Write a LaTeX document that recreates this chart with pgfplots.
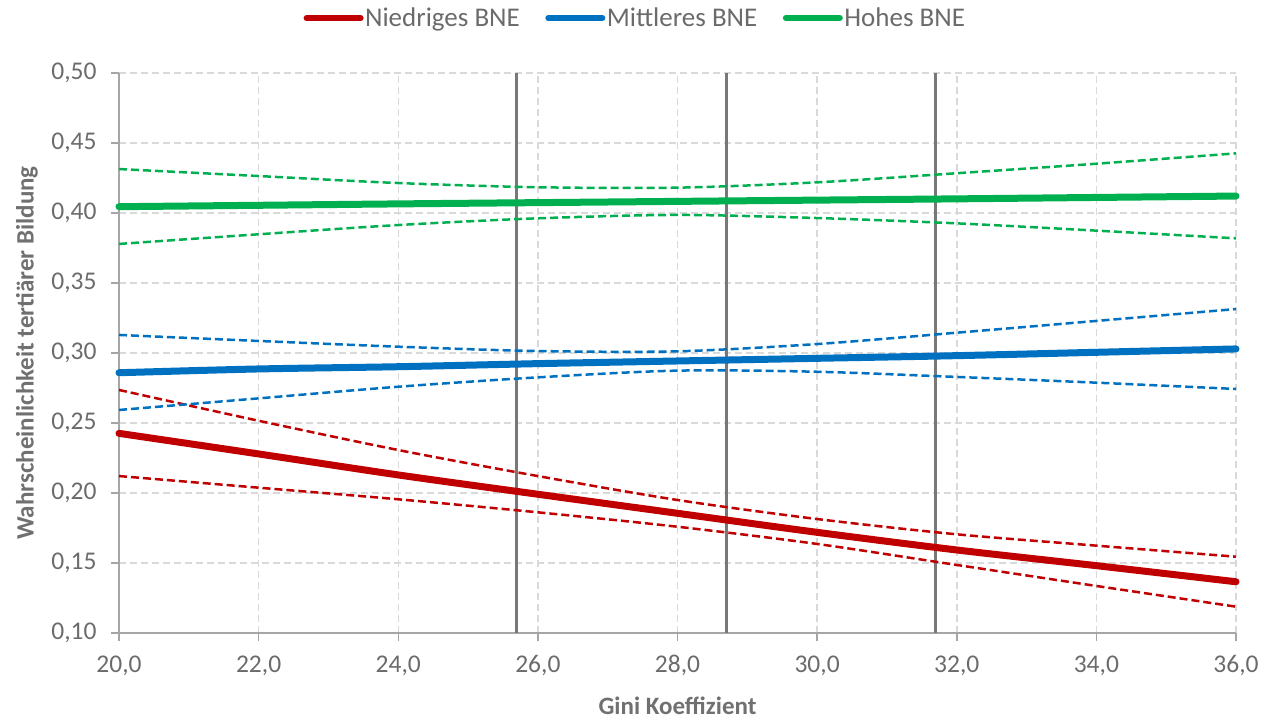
\documentclass[border=0pt]{standalone}
\usepackage{fontspec}
\setmainfont{Carlito}
\usepackage{pgfplots}
\pgfplotsset{compat=1.18}
\definecolor{cRed}{HTML}{C00000}
\definecolor{cBlue}{HTML}{0070C0}
\definecolor{cGreen}{HTML}{00B050}
\definecolor{axgray}{HTML}{A6A6A6}
\definecolor{gridgray}{HTML}{D9D9D9}
\definecolor{vgray}{HTML}{787878}
\definecolor{tickgray}{HTML}{6B6B6B}
\definecolor{labgray}{HTML}{707070}
\begin{document}
\begin{tikzpicture}
\useasboundingbox (-119pt,-86pt) rectangle (1144pt,633pt);
\begin{axis}[
  at={(0pt,0pt)}, anchor=south west,
  scale only axis, width=1117pt, height=560pt,
  xmin=20, xmax=36, ymin=0.1, ymax=0.5,
  clip=false,
  xtick={20,22,24,26,28,30,32,34,36},
  ytick={0.10,0.15,0.20,0.25,0.30,0.35,0.40,0.45,0.50},
  axis x line*=bottom, axis y line*=left,
  axis line style={draw=axgray, line width=1.5pt, -},
  tick align=outside, major tick length=8pt,
  tick style={draw=axgray, line width=1.5pt},
  grid=major,
  major grid style={draw=gridgray, line width=1.5pt, dash pattern=on 7pt off 4pt},
  /pgf/number format/assume math mode=true,
  xticklabel style={/pgf/number format/.cd, fixed, fixed zerofill, precision=1, use comma, /tikz/.cd, yshift=-11pt},
  yticklabel style={/pgf/number format/.cd, fixed, fixed zerofill, precision=2, use comma, /tikz/.cd, xshift=-11pt},
  ticklabel style={font=\fontsize{25.5}{30}\selectfont, text=tickgray},
  xlabel={Gini Koeffizient},
  ylabel={Wahrscheinlichkeit tertiärer Bildung},
  label style={font=\fontsize{25}{28}\selectfont\bfseries, text=labgray, inner sep=0pt},
  xlabel style={at={(axis description cs:0.5,-0.1455)}, anchor=base},
  ylabel style={at={(axis description cs:-0.0824,0.5)}, anchor=center},
  legend style={at={(0.462,1.098)}, anchor=center, draw=none, fill=none,
    font=\fontsize{27}{30}\selectfont, text=tickgray,
    nodes={inner sep=1.5pt},
    /tikz/every even column/.append style={column sep=24pt}},
  legend columns=-1,
  legend image code/.code={\draw[#1, line width=6pt, line cap=round] (0pt,0pt) -- (54pt,0pt);},
]
% vertical reference lines
\addplot[vgray, line width=3pt, forget plot] coordinates {(25.7,0.1) (25.7,0.5)};
\addplot[vgray, line width=3pt, forget plot] coordinates {(28.7,0.1) (28.7,0.5)};
\addplot[vgray, line width=3pt, forget plot] coordinates {(31.7,0.1) (31.7,0.5)};
% confidence bands (dashed)
\addplot[cRed, line width=2.5pt, dash pattern=on 8pt off 4pt, smooth, forget plot] coordinates {
 (20,0.2736) (22,0.2516) (24,0.2307) (26,0.2121) (28,0.1950) (30,0.1814) (32,0.1705) (34,0.1624) (36,0.1545)};
\addplot[cRed, line width=2.5pt, dash pattern=on 8pt off 4pt, smooth, forget plot] coordinates {
 (20,0.2121) (22,0.2038) (24,0.1955) (26,0.1862) (28,0.1759) (30,0.1636) (32,0.1486) (34,0.1336) (36,0.1188)};
\addplot[cBlue, line width=2.5pt, dash pattern=on 8pt off 4pt, smooth, forget plot] coordinates {
 (20,0.3129) (22,0.3086) (24,0.3045) (26,0.3014) (28,0.3012) (30,0.3064) (32,0.3145) (34,0.3229) (36,0.3314)};
\addplot[cBlue, line width=2.5pt, dash pattern=on 8pt off 4pt, smooth, forget plot] coordinates {
 (20,0.2593) (22,0.2676) (24,0.2759) (26,0.2826) (28,0.2874) (30,0.2866) (32,0.2829) (34,0.2788) (36,0.2743)};
\addplot[cGreen, line width=2.5pt, dash pattern=on 8pt off 4pt, smooth, forget plot] coordinates {
 (20,0.4314) (22,0.4264) (24,0.4214) (26,0.4184) (28,0.4181) (30,0.4219) (32,0.4284) (34,0.4352) (36,0.4426)};
\addplot[cGreen, line width=2.5pt, dash pattern=on 8pt off 4pt, smooth, forget plot] coordinates {
 (20,0.3779) (22,0.3848) (24,0.3914) (26,0.3962) (28,0.3986) (30,0.3964) (32,0.3926) (34,0.3874) (36,0.3819)};
% main lines
\addplot[cRed, line width=7pt, line cap=round, smooth] coordinates {
 (20,0.2426) (22,0.2279) (24,0.2129) (26,0.1991) (28,0.1855) (30,0.1719) (32,0.1593) (34,0.1481) (36,0.1366)};
\addlegendentry{Niedriges BNE}
\addplot[cBlue, line width=7pt, line cap=round, smooth] coordinates {
 (20,0.2859) (22,0.2886) (24,0.2902) (26,0.2924) (28,0.2943) (30,0.2962) (32,0.2981) (34,0.3005) (36,0.3029)};
\addlegendentry{Mittleres BNE}
\addplot[cGreen, line width=7pt, line cap=round, smooth] coordinates {
 (20,0.4045) (22,0.4055) (24,0.4065) (26,0.4074) (28,0.4083) (30,0.4092) (32,0.4101) (34,0.4111) (36,0.4121)};
\addlegendentry{Hohes BNE}
\end{axis}
\end{tikzpicture}
\end{document}
